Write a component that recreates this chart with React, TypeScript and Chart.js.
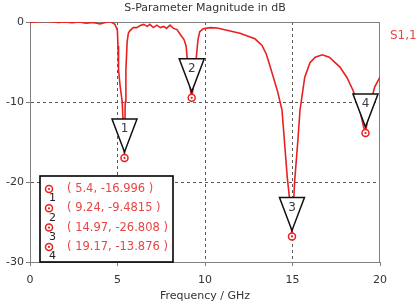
import React, { useEffect, useRef } from 'react';
import { Chart, registerables } from 'chart.js';

Chart.register(...registerables);

// Frequency samples (GHz) and |S1,1| in dB
const freqGHz = [
  0, 0.4, 0.8, 1.2, 1.6, 2.0, 2.4, 2.8, 3.2, 3.6, 4.0, 4.3, 4.6, 4.85, 4.99,
  5.03, 5.06, 5.15, 5.27, 5.34, 5.4, 5.44, 5.48, 5.55, 5.62, 5.7, 5.9, 6.1,
  6.3, 6.5, 6.7, 6.85, 7.05, 7.25, 7.45, 7.65, 7.8, 8.0, 8.2, 8.4, 8.57, 8.8,
  8.92, 8.98, 9.1, 9.24, 9.4, 9.5, 9.6, 9.7, 9.9, 10.3, 10.7, 11.0, 11.5, 12.0,
  12.5, 12.85, 13.25, 13.5, 13.7, 14.15, 14.4, 14.7, 14.85, 14.97, 15.12, 15.3,
  15.43, 15.7, 16.0, 16.3, 16.7, 17.1, 17.7, 18.1, 18.45, 18.85, 19.05, 19.17,
  19.4, 19.7, 20.0,
];
const s11dB = [
  -0.05, 0.05, 0.1, 0.05, -0.05, 0.0, -0.1, 0.0, -0.15, -0.05, -0.25, -0.05,
  0.05, -0.3, -1.0, -3.0, -6.0, -8.0, -10.0, -13.5, -16.996, -10.0, -6.0, -2.5,
  -1.4, -1.1, -0.7, -0.7, -0.45, -0.3, -0.55, -0.3, -0.7, -0.4, -0.7, -0.55,
  -0.8, -0.4, -0.8, -0.95, -1.5, -2.2, -3.0, -4.5, -7.5, -9.4815, -7.0, -4.5,
  -2.2, -1.2, -0.85, -0.7, -0.75, -0.9, -1.15, -1.4, -1.8, -2.1, -2.9, -4.0,
  -5.4, -8.7, -11.0, -19.4, -22.5, -26.808, -20.0, -15.0, -11.0, -6.9, -5.1,
  -4.4, -4.1, -4.4, -5.6, -6.9, -8.5, -11.0, -13.0, -13.876, -10.6, -8.1, -6.9,
];

// Markers
const markerIds = ['1', '2', '3', '4'];
const markerFreq = [5.4, 9.24, 14.97, 19.17];
const markerDb = [-16.996, -9.4815, -26.808, -13.876];
const markerText = [
  '( 5.4, -16.996 )',
  '( 9.24, -9.4815 )',
  '( 14.97, -26.808 )',
  '( 19.17, -13.876 )',
];

const chartTitle = 'S-Parameter Magnitude in dB';
const xTitle = 'Frequency / GHz';
const seriesName = 'S1,1';

const RED = 'rgb(232,32,32)';
const TEXT_RED = 'rgb(232,70,70)';
const FONT = "'DejaVu Sans', sans-serif";
const FRAME = '#808080';
const GRID = '#5a5a5a';
const TEXT = '#333333';

function drawMarkerCircle(ctx: CanvasRenderingContext2D, x: number, y: number) {
  ctx.save();
  ctx.beginPath();
  ctx.arc(x, y, 3.5, 0, Math.PI * 2);
  ctx.fillStyle = '#ffffff';
  ctx.fill();
  ctx.lineWidth = 1.5;
  ctx.strokeStyle = RED;
  ctx.stroke();
  ctx.beginPath();
  ctx.arc(x, y, 1.1, 0, Math.PI * 2);
  ctx.fillStyle = RED;
  ctx.fill();
  ctx.restore();
}

export default function App() {
  const ref = useRef<HTMLCanvasElement>(null);

  useEffect(() => {
    const canvas = ref.current;
    if (!canvas) return;

    const overlay = {
      id: 'overlay',
      beforeDatasetsDraw(chart: any) {
        const { ctx, chartArea: a } = chart;
        ctx.save();
        ctx.strokeStyle = FRAME;
        ctx.lineWidth = 1;
        ctx.strokeRect(a.left + 0.5, a.top + 0.5, a.right - a.left - 1, a.bottom - a.top);
        ctx.restore();
        // title centred over the plot area
        ctx.save();
        ctx.font = `11px ${FONT}`;
        ctx.fillStyle = TEXT;
        ctx.textAlign = 'center';
        ctx.textBaseline = 'middle';
        ctx.fillText(chartTitle, (a.left + a.right) / 2, 8.5);
        ctx.restore();
      },
      afterDatasetsDraw(chart: any) {
        const { ctx, chartArea: a } = chart;
        const xs = chart.scales.x;
        const ys = chart.scales.y;
        // triangles + markers on the trace
        for (let i = 0; i < markerFreq.length; i++) {
          const px = xs.getPixelForValue(markerFreq[i]);
          const py = ys.getPixelForValue(markerDb[i]);
          const tipY = py - 6;
          const topY = tipY - 33;
          ctx.save();
          ctx.beginPath();
          ctx.moveTo(px, tipY);
          ctx.lineTo(px - 12.5, topY);
          ctx.lineTo(px + 12.5, topY);
          ctx.closePath();
          ctx.fillStyle = '#ffffff';
          ctx.fill();
          ctx.lineWidth = 1.5;
          ctx.strokeStyle = '#111111';
          ctx.stroke();
          ctx.fillStyle = '#3a3a4a';
          ctx.font = `12px ${FONT}`;
          ctx.textAlign = 'center';
          ctx.textBaseline = 'middle';
          ctx.fillText(markerIds[i], px, topY + 10);
          ctx.restore();
          drawMarkerCircle(ctx, px, py);
        }
        // legend box
        const bx = a.left + 10;
        const bw = 133;
        const by = a.bottom - 86;
        const bh = 86;
        ctx.save();
        ctx.fillStyle = '#ffffff';
        ctx.fillRect(bx, by, bw, bh);
        ctx.lineWidth = 1.6;
        ctx.strokeStyle = '#000000';
        ctx.strokeRect(bx, by, bw, bh);
        ctx.restore();
        for (let i = 0; i < markerText.length; i++) {
          const ry = by + 13 + i * 19.3;
          drawMarkerCircle(ctx, bx + 9, ry);
          ctx.save();
          ctx.font = `11.5px ${FONT}`;
          ctx.textAlign = 'left';
          ctx.textBaseline = 'middle';
          ctx.fillStyle = TEXT_RED;
          ctx.fillText(markerText[i], bx + 27, ry);
          ctx.fillStyle = '#222222';
          ctx.font = `11px ${FONT}`;
          ctx.textAlign = 'center';
          ctx.fillText(markerIds[i], bx + 12.5, ry + 9.5);
          ctx.restore();
        }
        // series label
        ctx.save();
        ctx.font = `12px ${FONT}`;
        ctx.fillStyle = TEXT_RED;
        ctx.textAlign = 'left';
        ctx.textBaseline = 'middle';
        ctx.fillText(seriesName, a.right + 10, a.top + 14);
        ctx.restore();
      },
    };

    const edgeGrid = (vals: number[]) => (c: any) =>
      c.tick && vals.includes(c.tick.value) ? 'rgba(0,0,0,0)' : GRID;

    const chart = new Chart(canvas, {
      type: 'line',
      data: {
        datasets: [
          {
            label: seriesName,
            data: freqGHz.map((f, i) => ({ x: f, y: s11dB[i] })),
            borderColor: RED,
            borderWidth: 1.6,
            pointRadius: 0,
            tension: 0,
            fill: false,
          },
        ],
      },
      options: {
        animation: false,
        responsive: false,
        devicePixelRatio: 1,
        layout: { padding: { top: 22, right: 40, left: 0, bottom: 0 } },
        plugins: {
          legend: { display: false },
          tooltip: { enabled: false },
          title: { display: false },
        },
        scales: {
          x: {
            type: 'linear',
            min: 0,
            max: 20,
            ticks: {
              stepSize: 5,
              color: TEXT,
              font: { family: FONT, size: 11 },
              padding: 8,
              maxRotation: 0,
            },
            grid: {
              color: edgeGrid([0, 20]),
              tickColor: FRAME,
              tickLength: 4,
              tickBorderDash: [],
            },
            border: { color: FRAME, dash: [3, 3] },
            title: {
              display: true,
              text: xTitle,
              color: TEXT,
              font: { family: FONT, size: 11 },
              padding: { top: 0, bottom: 1 },
            },
            afterFit: (s: any) => {
              s.height = 42;
            },
          },
          y: {
            type: 'linear',
            min: -30,
            max: 0,
            ticks: {
              stepSize: 10,
              color: TEXT,
              font: { family: FONT, size: 11 },
              padding: 2,
            },
            grid: {
              color: edgeGrid([0, -30]),
              tickColor: FRAME,
              tickLength: 4,
              tickBorderDash: [],
            },
            border: { color: FRAME, dash: [3, 3] },
            afterFit: (s: any) => {
              s.width = 30;
            },
          },
        },
      } as any,
      plugins: [overlay],
    });

    return () => chart.destroy();
  }, []);

  return (
    <div style={{ position: 'fixed', left: 0, top: 0, width: 420, height: 304, background: '#ffffff' }}>
      <canvas ref={ref} width={420} height={304} style={{ display: 'block', width: 420, height: 304 }} />
    </div>
  );
}
